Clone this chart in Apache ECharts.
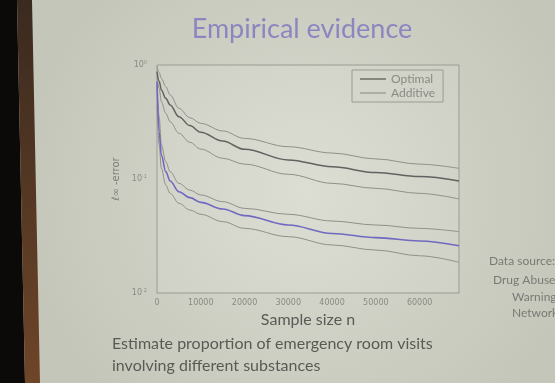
<!DOCTYPE html>
<html><head><meta charset="utf-8">
<script src="https://cdn.jsdelivr.net/npm/echarts@6/dist/echarts.min.js"></script>
<style>html,body{margin:0;padding:0;background:#d3d5c9}#c{width:555px;height:383px}</style>
</head><body><div id="c"></div>
<script>
const sampleSizes = [0,500,1000,2000,3000,5000,7500,10000,15000,20000,30000,40000,50000,60000,69000];
const additiveUpperHigh = [0.97,0.86,0.764,0.645,0.546,0.417,0.345,0.308,0.264,0.227,0.192,0.169,0.150,0.135,0.124];
const optimalUpper      = [0.875,0.72,0.604,0.510,0.446,0.352,0.294,0.257,0.215,0.182,0.147,0.128,0.114,0.105,0.096];
const additiveUpperLow  = [0.817,0.62,0.477,0.377,0.318,0.252,0.210,0.183,0.152,0.135,0.110,0.0916,0.0828,0.0748,0.0668];
const additiveLowerHigh = [0.668,0.35,0.199,0.142,0.116,0.0916,0.080,0.0724,0.0633,0.0553,0.049,0.0428,0.0395,0.0369,0.0345];
const optimalLower      = [0.714,0.26,0.162,0.116,0.096,0.0774,0.0686,0.0624,0.0546,0.0477,0.0395,0.0333,0.0306,0.0286,0.026];
const additiveLowerLow  = [0.446,0.2,0.124,0.0886,0.0748,0.0612,0.0535,0.049,0.0423,0.0369,0.0312,0.0264,0.0238,0.0212,0.0186];
const xTicks = [0,10000,20000,30000,40000,50000,60000];
const yTickExponents = {'1':'0','0.1':'-1','0.01':'-2'};

const pair = arr => sampleSizes.map((n,i)=>[n,arr[i]]);
const chart = echarts.init(document.getElementById('c'), null, {renderer:'canvas'});
function ser(name, arr, color, width, z){
  return {name, type:'line', data:pair(arr), symbol:'none', smooth:0.35, smoothMonotone:'x',
    lineStyle:{color, width}, itemStyle:{color}, z};
}
const lineIcon = 'path://M0,0L26,0L26,1.4L0,1.4Z';
chart.setOption({
  backgroundColor: {type:'radial', x:0.55, y:0.5, r:0.75,
    colorStops:[{offset:0,color:'#d9dbd0'},{offset:1,color:'#c5c6ba'}]},
  animation:false,
  title:{text:'Empirical evidence', left:297, top:11, textAlign:'center',
    textStyle:{fontFamily:'Lato', fontWeight:'normal', fontSize:27, color:'#8c86c0'}},
  grid:{left:157, right:96, top:65, bottom:90, show:true, borderColor:'#9a9b94', borderWidth:1,
    backgroundColor:'rgba(255,255,255,0.08)'},
  legend:{data:[{name:'Optimal', icon:lineIcon, itemStyle:{color:'#666660'}},
                {name:'Additive', icon:lineIcon, itemStyle:{color:'#9d9d97'}}],
    orient:'vertical', left:352, top:70, padding:[3,8,3,8], itemGap:2, itemWidth:26, itemHeight:15,
    borderColor:'#9a9b94', borderWidth:1, textStyle:{fontFamily:'Lato', fontSize:12, color:'#8a8a85'}},
  xAxis:{type:'value', min:0, max:69000, interval:10000,
    name:'Sample size n', nameLocation:'middle', nameGap:17,
    nameTextStyle:{fontFamily:'Lato', fontSize:16, color:'#5a5a56'},
    axisLine:{show:false}, axisTick:{show:false}, splitLine:{show:false},
    axisLabel:{fontFamily:'DejaVu Sans', fontSize:8, color:'#8a8a84', margin:6,
      formatter:v=> xTicks.includes(v) ? String(v) : ''}},
  yAxis:{type:'log', logBase:10, min:0.01, max:1,
    name:'ℓ∞ -error', nameLocation:'middle', nameGap:26, nameRotate:90,
    nameTextStyle:{fontFamily:'DejaVu Sans', fontSize:10, color:'#7a7a75'},
    axisLine:{show:false}, axisTick:{show:false}, splitLine:{show:false}, minorTick:{show:false},
    axisLabel:{margin:10, formatter:v=>{const e=yTickExponents[String(+v.toPrecision(3))]; return e!==undefined?'10{s|'+e+'}':'';},
      rich:{s:{fontSize:5, verticalAlign:'top', padding:[0,0,5,0], color:'#8a8a84'}},
      fontFamily:'DejaVu Sans', fontSize:8, color:'#8a8a84'}},
  series:[
    ser('Optimal', optimalUpper, '#626260', 1.5, 4),
    ser('Additive', additiveUpperHigh, '#8f908a', 1, 3),
    ser('Additive', additiveUpperLow, '#8f908a', 1, 3),
    ser('Additive', additiveLowerHigh, '#8f908a', 1, 3),
    ser('Optimal', optimalLower, '#7069c2', 1.6, 4),
    ser('Additive', additiveLowerLow, '#8f908a', 1, 3)
  ],
  graphic:[
    {type:'polygon', shape:{points:[[0,0],[17,0],[25,383],[0,383]]}, style:{fill:'#0b0a09'}, z:100},
    {type:'polygon', shape:{points:[[17,0],[32,0],[40,383],[25,383]]},
      style:{fill:{type:'linear',x:0,y:0,x2:0,y2:1,colorStops:[{offset:0,color:'#3a2a1f'},{offset:1,color:'#6e4528'}]}}, z:100},
    {type:'text', left:112, top:336, style:{text:'Estimate proportion of emergency room visits', font:'16px Lato', fill:'#5a5a55'}},
    {type:'text', left:112, top:358, style:{text:'involving different substances', font:'16px Lato', fill:'#5a5a55'}},
    {type:'text', left:489, top:255, style:{text:'Data source:', font:'12px Lato', fill:'#7a7a75'}},
    {type:'text', left:493, top:274, style:{text:'Drug Abuse', font:'12px Lato', fill:'#7a7a75'}},
    {type:'text', left:512, top:291, style:{text:'Warning', font:'12px Lato', fill:'#7a7a75'}},
    {type:'text', left:512, top:307, style:{text:'Network', font:'12px Lato', fill:'#7a7a75'}}
  ]
});
</script></body></html>
